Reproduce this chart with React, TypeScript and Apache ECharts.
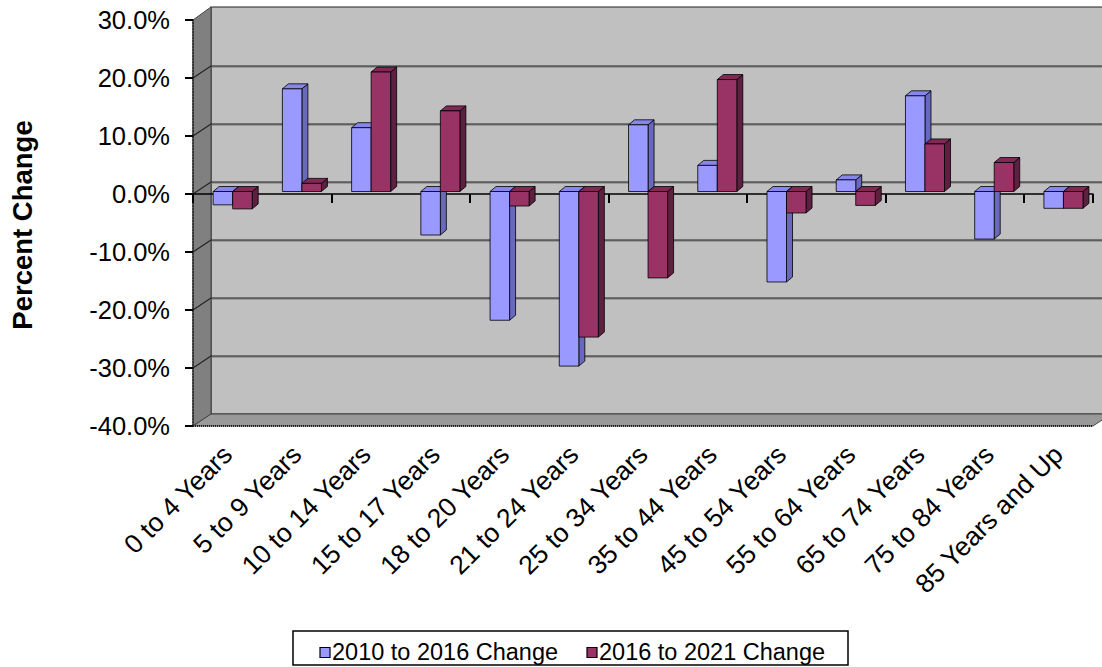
import React, { useEffect, useRef } from 'react';
import * as echarts from 'echarts';

const categories = [
  '0 to 4 Years', '5 to 9 Years', '10 to 14 Years', '15 to 17 Years', '18 to 20 Years',
  '21 to 24 Years', '25 to 34 Years', '35 to 44 Years', '45 to 54 Years', '55 to 64 Years',
  '65 to 74 Years', '75 to 84 Years', '85 Years and Up',
];
const change2010to2016 = [-2.3, 17.7, 11.0, -7.5, -22.2, -30.1, 11.5, 4.5, -15.6, 2.0, 16.5, -8.2, -2.9];
const change2016to2021 = [-3.0, 1.4, 20.6, 13.9, -2.5, -25.1, -14.9, 19.3, -3.7, -2.4, 8.2, 5.0, -2.9];
const seriesNames = ['2010 to 2016 Change', '2016 to 2021 Change'];
const yMin = -40;
const yMax = 30;
const yStep = 10;
const yGridValues = [-30, -20, -10, 0, 10, 20];

const FONT = "'Liberation Sans', Arial, sans-serif";
const DX = 18;
const DY = -12;
const BDX = 6;
const BDY = -5;

const faceColors = [
  { front: '#9999FF', top: '#8787E8', side: '#6868BE' },
  { front: '#993366', top: '#7E2A55', side: '#5E1F40' },
];

function makeBarRender(s: number) {
  return (params: any, api: any) => {
    const idx = api.value(0);
    const v = api.value(1);
    const p0 = api.coord([idx, 0]);
    const p1 = api.coord([idx, v]);
    const band = api.size([1, 0])[0];
    const bw = band * 0.282;
    const offX = band * 0.073;
    const offY = -2.5;
    const left = p0[0] + offX - bw + s * bw;
    const y0 = p0[1] + offY;
    const y1 = p1[1] + offY;
    const top = Math.min(y0, y1);
    const bottom = Math.max(y0, y1);
    const c = faceColors[s];
    const stroke = { stroke: '#000', lineWidth: 0.8 };
    return {
      type: 'group',
      children: [
        {
          type: 'polygon',
          shape: { points: [[left + bw, top], [left + bw + BDX, top + BDY], [left + bw + BDX, bottom + BDY], [left + bw, bottom]] },
          style: { fill: c.side, ...stroke },
        },
        {
          type: 'polygon',
          shape: { points: [[left, top], [left + BDX, top + BDY], [left + bw + BDX, top + BDY], [left + bw, top]] },
          style: { fill: c.top, ...stroke },
        },
        {
          type: 'rect',
          shape: { x: left, y: top, width: bw, height: bottom - top },
          style: { fill: c.front, ...stroke },
        },
      ],
    };
  };
}

function wallsRender(params: any, api: any) {
  const cs = params.coordSys;
  const x0 = cs.x;
  const x1 = cs.x + cs.width;
  const yT = api.coord([0, yMax])[1];
  const yB = api.coord([0, yMin])[1];
  const children: any[] = [
    {
      type: 'rect',
      shape: { x: x0 + DX, y: yT + DY - 1, width: cs.width, height: yB - yT + 1 },
      style: { fill: '#C0C0C0', stroke: '#222', lineWidth: 1.2 },
    },
    {
      type: 'polygon',
      shape: { points: [[x0, yT], [x0 + DX, yT + DY - 1], [x0 + DX, yB + DY], [x0, yB]] },
      style: { fill: '#808080', stroke: '#444', lineWidth: 1 },
    },
    {
      type: 'polygon',
      shape: { points: [[x0, yB], [x0 + DX, yB + DY], [x1 + DX, yB + DY], [x1, yB]] },
      style: { fill: '#999999', stroke: '#444', lineWidth: 1 },
    },
    {
      type: 'line',
      shape: { x1: x0, y1: yB, x2: x1, y2: yB },
      style: { stroke: '#000', lineWidth: 1.5, lineDash: [1, 1] },
    },
  ];
  yGridValues.forEach((v) => {
    const y = api.coord([0, v])[1];
    children.push({
      type: 'line',
      shape: { x1: x0 + DX, y1: y + DY + 1, x2: x1 + DX, y2: y + DY + 1 },
      style: { stroke: '#777', lineWidth: 1 },
    });
    children.push({
      type: 'line',
      shape: { x1: x0 + DX, y1: y + DY, x2: x1 + DX, y2: y + DY },
      style: { stroke: '#222', lineWidth: 1.2 },
    });
    children.push({
      type: 'line',
      shape: { x1: x0, y1: y, x2: x0 + DX, y2: y + DY },
      style: { stroke: '#222', lineWidth: 1.2 },
    });
  });
  return { type: 'group', children };
}

const legendItemX = [320, 587];

export default function App() {
  const ref = useRef<HTMLDivElement>(null);
  useEffect(() => {
    if (!ref.current) return;
    const chart = echarts.init(ref.current, null, { renderer: 'svg' });
    const legendGraphics: any[] = [
      {
        type: 'rect',
        shape: { x: 293, y: 631, width: 555, height: 34 },
        style: { fill: '#fff', stroke: '#000', lineWidth: 1.5 },
        z: 10,
      },
    ];
    seriesNames.forEach((n, i) => {
      legendGraphics.push({
        type: 'rect',
        shape: { x: legendItemX[i], y: 647.5, width: 10, height: 10 },
        style: { fill: faceColors[i].front, stroke: '#000', lineWidth: 1.2 },
        z: 11,
      });
      legendGraphics.push({
        type: 'text',
        x: legendItemX[i] + 12,
        y: 652,
        style: {
          text: n,
          font: `23.5px ${FONT}`,
          fill: '#000',
          textAlign: 'left',
          textVerticalAlign: 'middle',
        },
        z: 11,
      });
    });
    const option: any = {
      animation: false,
      backgroundColor: '#fff',
      grid: { left: 193, top: 20, width: 900, height: 406, containLabel: false },
      graphic: [
        {
          type: 'text',
          x: 22,
          y: 225,
          rotation: Math.PI / 2,
          style: {
            text: 'Percent Change',
            font: `bold 27.5px ${FONT}`,
            fill: '#000',
            textAlign: 'center',
            textVerticalAlign: 'middle',
          },
        },
        ...legendGraphics,
      ],
      xAxis: [
        {
          type: 'category',
          data: categories,
          position: 'bottom',
          z: 1,
          axisLine: { onZero: true, lineStyle: { color: '#000', width: 1.5 } },
          axisTick: { show: true, length: 9, lineStyle: { color: '#000', width: 2 } },
          axisLabel: { show: false },
          splitLine: { show: false },
        },
        {
          type: 'category',
          data: categories,
          position: 'bottom',
          z: 1,
          axisLine: { show: false, onZero: false },
          axisTick: { show: false },
          axisLabel: {
            interval: 0,
            rotate: 45,
            margin: 24,
            fontSize: 26.5,
            color: '#000',
            fontFamily: FONT,
          },
          splitLine: { show: false },
        },
      ],
      yAxis: {
        type: 'value',
        min: yMin,
        max: yMax,
        interval: yStep,
        z: 1,
        axisLine: { show: true, lineStyle: { color: '#222', width: 1.5, type: 'dotted' } },
        axisTick: { show: true, length: 8, lineStyle: { color: '#000', width: 2 } },
        axisLabel: {
          formatter: (v: number) => `${v.toFixed(1)}%`,
          fontSize: 25.5,
          color: '#000',
          fontFamily: FONT,
          margin: 23,
        },
        splitLine: { show: false },
      },
      series: [
        {
          type: 'custom',
          name: 'walls',
          z: 0,
          silent: true,
          renderItem: wallsRender,
          data: [[0, 0]],
          encode: { x: 0, y: 1 },
        },
        ...[change2010to2016, change2016to2021].map((vals, s) => ({
          type: 'custom',
          name: seriesNames[s],
          z: 3,
          itemStyle: { color: faceColors[s].front },
          renderItem: makeBarRender(s),
          data: vals.map((v, i) => [i, v]),
          encode: { x: 0, y: 1 },
        })),
      ],
    };
    chart.setOption(option);
    return () => chart.dispose();
  }, []);
  return (
    <div
      ref={ref}
      style={{ position: 'absolute', left: 0, top: 0, width: 1102, height: 667 }}
    />
  );
}
